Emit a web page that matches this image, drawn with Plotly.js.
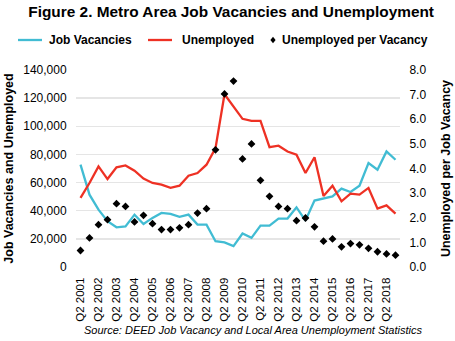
<!DOCTYPE html>
<html>
<head>
<meta charset="utf-8">
<script src="https://cdn.plot.ly/plotly-3.0.1.min.js"></script>
<style>html,body{margin:0;padding:0;background:#fff;}#chart{width:455px;height:341px;}</style>
</head>
<body>
<div id="chart"></div>
<script>
var years = [];
for (var y = 2001; y <= 2018; y++) { years.push(y); }
var periods = [];
years.forEach(function(y){ periods.push('Q2 ' + y); periods.push('Q4 ' + y); });

var jobVacancies = [72700, 51400, 40800, 32500, 28200, 28900, 37200, 30600, 34900, 38400,
  37700, 35600, 37200, 30100, 30100, 18300, 17500, 14800, 23800, 20700,
  29400, 29400, 34400, 34400, 42400, 33000, 47200, 48600, 50200, 55700,
  53300, 57800, 73900, 69100, 82100, 76200];
var unemployed = [49100, 59700, 71500, 62500, 70800, 72200, 68400, 62800, 59700, 58500,
  56200, 57800, 64900, 66800, 72700, 84500, 122800, 114000, 105300, 103900,
  103900, 85200, 86200, 82100, 79800, 66800, 78000, 50500, 57800, 46700,
  52100, 51400, 56200, 41500, 43800, 37900];
var ratio = [0.67, 1.18, 1.72, 1.92, 2.57, 2.46, 1.83, 2.10, 1.76, 1.52,
  1.52, 1.59, 1.72, 2.19, 2.37, 4.76, 7.03, 7.55, 4.39, 5.00,
  3.52, 2.87, 2.46, 2.37, 1.88, 1.99, 1.63, 1.05, 1.14, 0.82,
  0.95, 0.90, 0.76, 0.62, 0.53, 0.48];
var tickLabels = years.map(function(y){ return 'Q2 ' + y; });
var seriesNames = ['Job Vacancies', 'Unemployed', 'Unemployed per Vacancy'];
var seriesColors = ['#41BCD3', '#EE3124', '#000000'];

var font = 'Liberation Sans, Arial, sans-serif';
var W = 455, H = 341, ML = 76, MR = 55, MT = 70, MB = 74;
var PW = W - ML - MR, PH = H - MT - MB;
function px(p) { return (p - ML) / PW; }
function py(q) { return (H - MB - q) / PH; }

var traces = [
  {x: periods, y: jobVacancies, type: 'scatter', mode: 'lines', name: seriesNames[0],
   line: {color: seriesColors[0], width: 2.3}},
  {x: periods, y: unemployed, type: 'scatter', mode: 'lines', name: seriesNames[1],
   line: {color: seriesColors[1], width: 2.3}},
  {x: periods, y: ratio, type: 'scatter', mode: 'markers', name: seriesNames[2],
   yaxis: 'y2', marker: {symbol: 'diamond', color: seriesColors[2], size: 6}}
];

var legY = 40;
var shapes = [
  {type: 'line', xref: 'paper', yref: 'paper', x0: px(18), x1: px(42), y0: py(legY), y1: py(legY),
   line: {color: seriesColors[0], width: 2.3}},
  {type: 'line', xref: 'paper', yref: 'paper', x0: px(148), x1: px(172), y0: py(legY), y1: py(legY),
   line: {color: seriesColors[1], width: 2.3}},
  {type: 'path', xref: 'paper', yref: 'paper', xsizemode: 'pixel', ysizemode: 'pixel',
   xanchor: px(273), yanchor: py(legY), path: 'M0,3.2 L2.6,0 L0,-3.2 L-2.6,0 Z',
   fillcolor: seriesColors[2], line: {width: 0}}
];
var legText = [[47, seriesNames[0]], [180, seriesNames[1]], [280, seriesNames[2]]];
var annotations = legText.map(function(t){
  return {text: '<b>' + t[1] + '</b>', xref: 'paper', yref: 'paper', x: px(t[0]), xanchor: 'left',
    y: py(legY), yanchor: 'middle', showarrow: false, font: {family: font, size: 12, color: '#000'}};
});
annotations.push({text: '<i>Source: DEED Job Vacancy and Local Area Unemployment Statistics</i>',
  xref: 'paper', yref: 'paper', x: px(252.5), xanchor: 'center', y: py(330), yanchor: 'middle',
  showarrow: false, font: {family: font, size: 11, color: '#000'}});

var layout = {
  width: W, height: H,
  margin: {l: ML, r: MR, t: MT, b: MB},
  paper_bgcolor: '#fff', plot_bgcolor: '#fff',
  font: {family: font, color: '#000', size: 12},
  title: {text: '<b>Figure 2. Metro Area Job Vacancies and Unemployment</b>',
    font: {family: font, size: 15.4, color: '#000'}, x: 0.508, xanchor: 'center', y: 0.965, yanchor: 'middle'},
  showlegend: false,
  xaxis: {type: 'category', categoryorder: 'array', categoryarray: periods,
    range: [-0.5, 35.5], tickvals: tickLabels, ticktext: tickLabels, tickangle: -90,
    tickfont: {family: font, size: 11.5, color: '#000'}, showgrid: false, zeroline: false,
    showline: false, ticks: 'outside', ticklen: 5, tickcolor: 'rgba(0,0,0,0)', automargin: false},
  yaxis: {range: [0, 140000], dtick: 20000, tickformat: ',', showgrid: true, gridcolor: '#E5E5E5',
    gridwidth: 1.5, zeroline: false, showline: false, ticks: 'outside', ticklen: 6, tickcolor: 'rgba(0,0,0,0)',
    tickfont: {family: font, size: 12, color: '#000'},
    title: {text: '<b>Job Vacancies and Unemployed</b>', font: {family: font, size: 12.5, color: '#000'}, standoff: 6},
    automargin: false},
  yaxis2: {overlaying: 'y', side: 'right', range: [0, 8], dtick: 1, tickformat: '.1f',
    showgrid: false, zeroline: false, showline: false, ticks: 'outside', ticklen: 6, tickcolor: 'rgba(0,0,0,0)',
    tickfont: {family: font, size: 12, color: '#000'},
    title: {text: '<b>Unemployed per Job Vacancy</b>', font: {family: font, size: 12.5, color: '#000'}, standoff: 15},
    automargin: false},
  shapes: shapes,
  annotations: annotations
};
Plotly.newPlot('chart', traces, layout, {displayModeBar: false, staticPlot: true});
</script>
</body>
</html>
